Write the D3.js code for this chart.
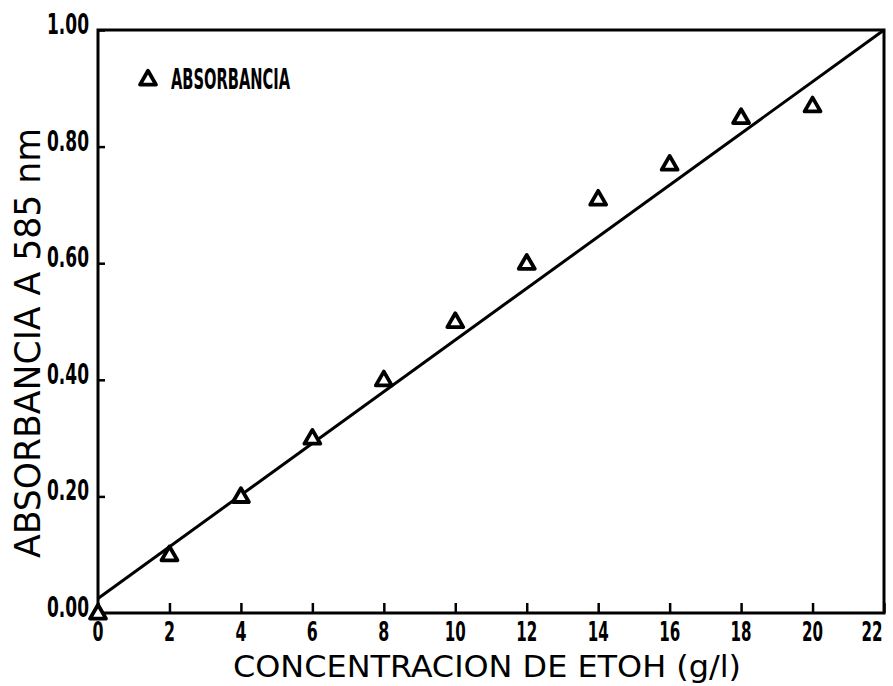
<!DOCTYPE html>
<html>
<head>
<meta charset="utf-8">
<script src="https://cdn.jsdelivr.net/npm/d3@7"></script>
<style>
  html, body { margin: 0; padding: 0; background: #fff; }
  svg { display: block; }
  text { font-family: "DejaVu Sans Condensed", "DejaVu Sans", sans-serif; fill: #000; }
</style>
</head>
<body>
<svg id="chart" width="893" height="686"></svg>
<script>
// Ethanol concentration (g/l) and measured absorbance at 585 nm
const concentration = [0, 2, 4, 6, 8, 10, 12, 14, 16, 18, 20];
const absorbance    = [0.00, 0.10, 0.20, 0.30, 0.40, 0.50, 0.60, 0.71, 0.77, 0.85, 0.87];

// Calibration line end points (x in g/l, absorbance)
const fitX = [0, 22];
const fitY = [0.025, 1.00];

// Axis ticks and labels
const xTicks = [0, 2, 4, 6, 8, 10, 12, 14, 16, 18, 20, 22];
const yTicks = [0.00, 0.20, 0.40, 0.60, 0.80, 1.00];
const yTickLabels = ["0.00", "0.20", "0.40", "0.60", "0.80", "1.00"];

const legendLabel = "ABSORBANCIA";
const xTitle = "CONCENTRACION DE ETOH (g/l)";
const yTitle = "ABSORBANCIA A 585 nm";

const svg = d3.select("#chart");
const plotLeft = 98, plotRight = 884, plotTop = 30, plotBottom = 613;

const x = d3.scaleLinear().domain([0, 22]).range([plotLeft, plotRight]);
const y = d3.scaleLinear().domain([0, 1]).range([plotBottom, plotTop]);

// Frame
svg.append("rect")
  .attr("x", plotLeft).attr("y", plotTop)
  .attr("width", plotRight - plotLeft).attr("height", plotBottom - plotTop)
  .attr("fill", "none").attr("stroke", "#000").attr("stroke-width", 3);

// Bottom axis: ticks pointing into the plot
const xAxis = d3.axisTop(x).tickValues(xTicks).tickSize(10).tickFormat("");
const gx = svg.append("g").attr("transform", `translate(0,${plotBottom})`).call(xAxis);
gx.select(".domain").remove();
gx.selectAll(".tick line").attr("stroke", "#000").attr("stroke-width", 2.5);

// last label is pulled left so it stays inside the page
svg.append("g").selectAll("text").data(xTicks).join("text")
  .attr("x", d => d === 22 ? x(d) - 12 : x(d))
  .attr("y", plotBottom + 28)
  .attr("text-anchor", "middle")
  .attr("font-size", 27)
  .attr("font-weight", "bold")
  .attr("textLength", d => String(d).length > 1 ? 21 : 11)
  .attr("lengthAdjust", "spacingAndGlyphs")
  .text(d => d);

// Left axis: ticks pointing into the plot
const yAxis = d3.axisRight(y).tickValues(yTicks).tickSize(7).tickFormat("");
const gy = svg.append("g").attr("transform", `translate(${plotLeft},0)`).call(yAxis);
gy.select(".domain").remove();
gy.selectAll(".tick line").attr("stroke", "#000").attr("stroke-width", 2.5);

svg.append("g").selectAll("text").data(yTicks).join("text")
  .attr("x", plotLeft - 9)
  .attr("y", d => y(d) + 4)
  .attr("text-anchor", "end")
  .attr("font-size", 28)
  .attr("font-weight", "bold")
  .attr("textLength", 42)
  .attr("lengthAdjust", "spacingAndGlyphs")
  .text((d, i) => yTickLabels[i]);

// Calibration line
const line = d3.line().x(d => x(d[0])).y(d => y(d[1]));
svg.append("path")
  .datum(fitX.map((v, i) => [v, fitY[i]]))
  .attr("d", line)
  .attr("fill", "none").attr("stroke", "#000").attr("stroke-width", 3);

// Triangle markers
const tri = d3.symbol().type(d3.symbolTriangle).size(110);
svg.append("g").selectAll("path").data(concentration).join("path")
  .attr("transform", (d, i) => `translate(${x(d)},${y(absorbance[i]) + 1})`)
  .attr("d", tri)
  .attr("fill", "#fff").attr("stroke", "#000").attr("stroke-width", 3.8)
  .attr("stroke-linejoin", "round");

// Legend
svg.append("path")
  .attr("transform", "translate(148,80)")
  .attr("d", tri)
  .attr("fill", "#fff").attr("stroke", "#000").attr("stroke-width", 3.8)
  .attr("stroke-linejoin", "round");
svg.append("text")
  .attr("x", 171).attr("y", 89)
  .attr("font-size", 29)
  .attr("font-weight", "bold")
  .attr("textLength", 119)
  .attr("lengthAdjust", "spacingAndGlyphs")
  .text(legendLabel);

// Axis titles
svg.append("text")
  .attr("x", 233).attr("y", 677)
  .attr("font-size", 31)
  .attr("textLength", 508)
  .attr("lengthAdjust", "spacingAndGlyphs")
  .text(xTitle);

svg.append("text")
  .attr("transform", "translate(40,343) rotate(-90)")
  .attr("text-anchor", "middle")
  .attr("font-size", 35)
  .attr("textLength", 430)
  .attr("lengthAdjust", "spacingAndGlyphs")
  .text(yTitle);
</script>
</body>
</html>
